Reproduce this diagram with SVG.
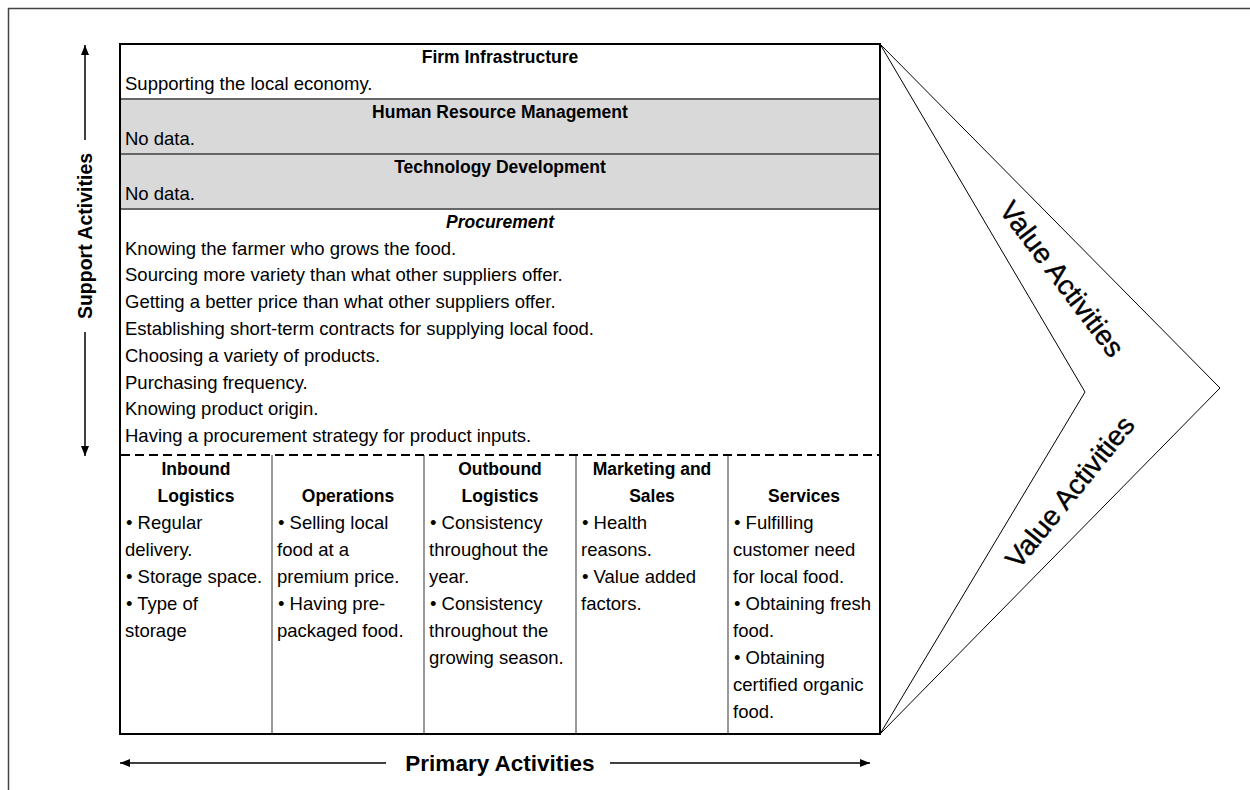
<svg xmlns="http://www.w3.org/2000/svg" width="1250" height="790" viewBox="0 0 1250 790">
  <style>
    .frame { fill: none; stroke: #444; stroke-width: 1.5; }
    .tbl { fill: none; stroke: #000; stroke-width: 2; }
    .sep { stroke: #666; stroke-width: 2; }
    .col { stroke: #777; stroke-width: 1.5; }
    .dash { stroke: #000; stroke-width: 2; stroke-dasharray: 9 5; }
    .gray { fill: #d9d9d9; }
    .chev { fill: none; stroke: #000; stroke-width: 1; }
    .arr { stroke: #000; stroke-width: 1.5; fill: none; }
    text { font-family: "Liberation Sans", Arial, sans-serif; fill: #000; }
    .t { font-size: 18.5px; }
    .h { font-size: 17.5px; font-weight: bold; text-anchor: middle; }
    .hi { font-style: italic; }
    .lbl { font-size: 19.5px; font-weight: bold; text-anchor: middle; }
    .plbl { font-size: 22.5px; font-weight: bold; text-anchor: middle; }
    .va { font-size: 28px; text-anchor: middle; dominant-baseline: central; stroke: #000; stroke-width: 0.4; }
  </style>
  <defs>
    <marker id="head" viewBox="0 0 10 10" refX="10" refY="5" markerWidth="10" markerHeight="10" markerUnits="userSpaceOnUse" orient="auto">
      <path d="M0,1 L10,5 L0,9 Z" fill="#000"/>
    </marker>
  </defs>

  <rect width="1250" height="790" fill="#fff"/>
  <!-- outer frame (left and top edges in view) -->
  <path class="frame" d="M8.5,790 V8.5 H1250"/>

  <!-- shaded support rows -->
  <rect class="gray" x="120" y="99" width="760" height="110"/>

  <g id="firm-infrastructure">
    <text class="h" x="500" y="63">Firm Infrastructure</text>
    <text class="t" x="125" y="90">Supporting the local economy.</text>
  </g>
  <g id="human-resource-management">
    <text class="h" x="500" y="118">Human Resource Management</text>
    <text class="t" x="125" y="145">No data.</text>
  </g>
  <g id="technology-development">
    <text class="h" x="500" y="173">Technology Development</text>
    <text class="t" x="125" y="200">No data.</text>
  </g>
  <g id="procurement">
    <text class="h hi" x="500" y="228">Procurement</text>
    <text class="t" x="125" y="254.5">Knowing the farmer who grows the food.</text>
    <text class="t" x="125" y="281.3">Sourcing more variety than what other suppliers offer.</text>
    <text class="t" x="125" y="308.1">Getting a better price than what other suppliers offer.</text>
    <text class="t" x="125" y="334.9">Establishing short-term contracts for supplying local food.</text>
    <text class="t" x="125" y="361.7">Choosing a variety of products.</text>
    <text class="t" x="125" y="388.5">Purchasing frequency.</text>
    <text class="t" x="125" y="415.3">Knowing product origin.</text>
    <text class="t" x="125" y="442.1">Having a procurement strategy for product inputs.</text>
  </g>

  <g id="inbound-logistics">
    <text class="h" x="196" y="475">Inbound</text>
    <text class="h" x="196" y="502">Logistics</text>
    <text class="t" x="126" y="529">• Regular</text>
    <text class="t" x="125" y="556">delivery.</text>
    <text class="t" x="126" y="583">• Storage space.</text>
    <text class="t" x="126" y="610">• Type of</text>
    <text class="t" x="125" y="637">storage</text>
  </g>
  <g id="operations">
    <text class="h" x="348" y="502">Operations</text>
    <text class="t" x="278" y="529">• Selling local</text>
    <text class="t" x="277" y="556">food at a</text>
    <text class="t" x="277" y="583">premium price.</text>
    <text class="t" x="278" y="610">• Having pre-</text>
    <text class="t" x="277" y="637">packaged food.</text>
  </g>
  <g id="outbound-logistics">
    <text class="h" x="500" y="475">Outbound</text>
    <text class="h" x="500" y="502">Logistics</text>
    <text class="t" x="430" y="529">• Consistency</text>
    <text class="t" x="429" y="556">throughout the</text>
    <text class="t" x="429" y="583">year.</text>
    <text class="t" x="430" y="610">• Consistency</text>
    <text class="t" x="429" y="637">throughout the</text>
    <text class="t" x="429" y="664">growing season.</text>
  </g>
  <g id="marketing-and-sales">
    <text class="h" x="652" y="475">Marketing and</text>
    <text class="h" x="652" y="502">Sales</text>
    <text class="t" x="582" y="529">• Health</text>
    <text class="t" x="581" y="556">reasons.</text>
    <text class="t" x="582" y="583">• Value added</text>
    <text class="t" x="581" y="610">factors.</text>
  </g>
  <g id="services">
    <text class="h" x="804" y="502">Services</text>
    <text class="t" x="734" y="529">• Fulfilling</text>
    <text class="t" x="733" y="556">customer need</text>
    <text class="t" x="733" y="583">for local food.</text>
    <text class="t" x="734" y="610">• Obtaining fresh</text>
    <text class="t" x="733" y="637">food.</text>
    <text class="t" x="734" y="664">• Obtaining</text>
    <text class="t" x="733" y="691">certified organic</text>
    <text class="t" x="733" y="718">food.</text>
  </g>

  <!-- table rules -->
  <g id="table-grid">
    <line class="sep" x1="120" y1="99" x2="880" y2="99"/>
    <line class="sep" x1="120" y1="154" x2="880" y2="154"/>
    <line class="sep" x1="120" y1="209" x2="880" y2="209"/>
    <line class="col" x1="272" y1="455" x2="272" y2="734"/>
    <line class="col" x1="424" y1="455" x2="424" y2="734"/>
    <line class="col" x1="576" y1="455" x2="576" y2="734"/>
    <line class="col" x1="728" y1="455" x2="728" y2="734"/>
    <line class="dash" x1="121" y1="455" x2="879" y2="455"/>
    <rect class="tbl" x="120" y="44" width="760" height="690"/>
  </g>

  <!-- margin chevron -->
  <g id="value-chevron">
    <polyline class="chev" points="880,44 1220,388 880,734"/>
    <polyline class="chev" points="880,44 1085,392 880,734"/>
    <text class="va" transform="translate(1062,279) rotate(53)">Value Activities</text>
    <text class="va" transform="translate(1070,492) rotate(-51)">Value Activities</text>
  </g>

  <g id="support-label">
    <text class="lbl" transform="translate(92,236) rotate(-90)">Support Activities</text>
  </g>
  <g id="primary-label">
    <text class="plbl" x="500" y="771">Primary Activities</text>
  </g>

  <g id="connectors">
    <line class="arr" x1="85" y1="140" x2="85" y2="45" marker-end="url(#head)"/>
    <line class="arr" x1="85" y1="332" x2="85" y2="456" marker-end="url(#head)"/>
    <line class="arr" x1="386" y1="763" x2="120" y2="763" marker-end="url(#head)"/>
    <line class="arr" x1="610" y1="763" x2="870" y2="763" marker-end="url(#head)"/>
  </g>
</svg>
